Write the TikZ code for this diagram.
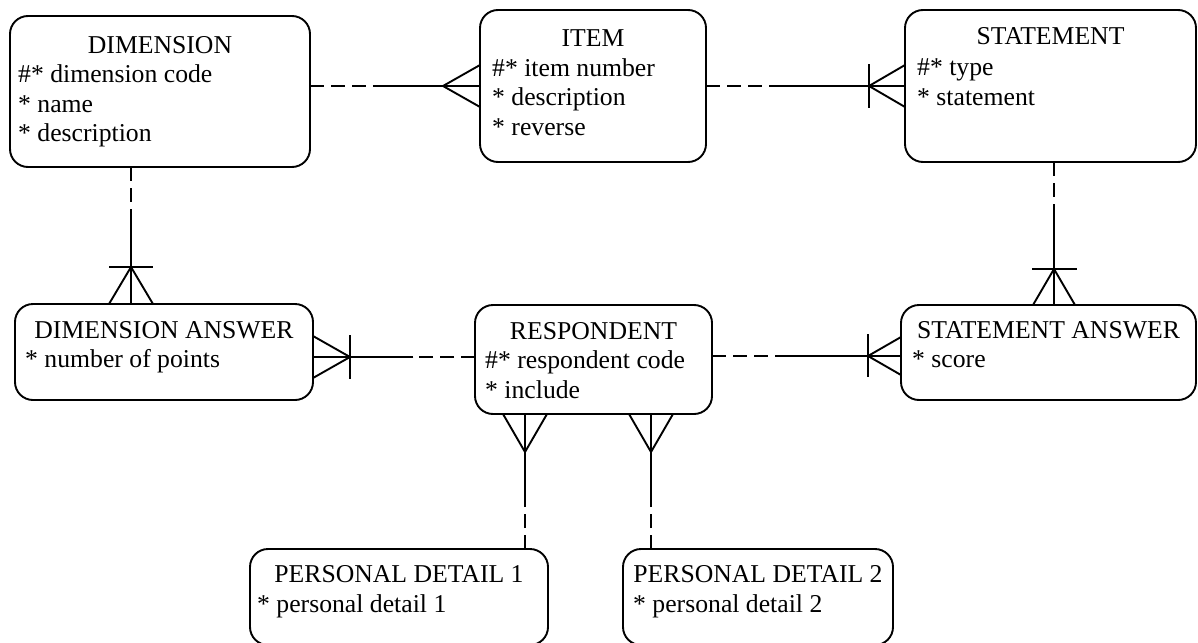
\documentclass[tikz,border=0pt]{standalone}
\usepackage{fontspec}
\setmainfont{Liberation Serif}
\usetikzlibrary{calc}
\tikzset{
 ent/.style={draw, line width=1.9pt, rounded corners=18pt, inner sep=0pt, outer sep=0pt},
 ttl/.style={anchor=base, inner sep=0pt},
 att/.style={anchor=base west, inner sep=0pt},
 optl/.style={line width=1.9pt, dash pattern=on 14pt off 7pt},
 manl/.style={line width=1.9pt},
 every node/.append style={font=\fontsize{25.7pt}{30pt}\selectfont},
}
\begin{document}
\begin{tikzpicture}[x=1pt,y=-1pt]
\useasboundingbox (0,0) rectangle (1198,642);
% entities
\node[ent, minimum width=300pt, minimum height=151pt] (DIM) at (160,91.5) {};
\node[ent, minimum width=226pt, minimum height=152pt] (ITEM) at (593,86) {};
\node[ent, minimum width=291pt, minimum height=152pt] (STMT) at (1050.5,86) {};
\node[ent, minimum width=298pt, minimum height=96pt] (DANS) at (164,352) {};
\node[ent, minimum width=237pt, minimum height=109pt] (RESP) at (593.5,359.5) {};
\node[ent, minimum width=295pt, minimum height=95pt] (SANS) at (1048.5,352.5) {};
\node[ent, minimum width=298pt, minimum height=96pt] (PDA) at (399,597) {};
\node[ent, minimum width=270pt, minimum height=96pt] (PDB) at (758,597) {};
% texts
\node[ttl] (DIMt) at ($(DIM.north)+(0,37)$) {DIMENSION};
\node[att] (DIMa1) at ($(DIM.north west)+(8,66)$) {\#* dimension code};
\node[att] (DIMa2) at ($(DIM.north west)+(8,96)$) {* name};
\node[att] (DIMa3) at ($(DIM.north west)+(8,125)$) {* description};
\node[ttl] (ITEMt) at ($(ITEM.north)+(0,36)$) {ITEM};
\node[att] (ITEMa1) at ($(ITEM.north west)+(12,66)$) {\#* item number};
\node[att] (ITEMa2) at ($(ITEM.north west)+(12,95)$) {* description};
\node[att] (ITEMa3) at ($(ITEM.north west)+(12,125)$) {* reverse};
\node[ttl] (STMTt) at ($(STMT.north)+(0,35)$) {STATEMENT};
\node[att] (STMTa1) at ($(STMT.north west)+(12,65)$) {\#* type};
\node[att] (STMTa2) at ($(STMT.north west)+(12,95)$) {* statement};
\node[ttl] (DANSt) at ($(DANS.north)+(0,34)$) {DIMENSION ANSWER};
\node[att] (DANSa1) at ($(DANS.north west)+(10,63)$) {* number of points};
\node[ttl] (RESPt) at ($(RESP.north)+(0,34)$) {RESPONDENT};
\node[att] (RESPa1) at ($(RESP.north west)+(10,63)$) {\#* respondent code};
\node[att] (RESPa2) at ($(RESP.north west)+(10,93)$) {* include};
\node[ttl] (SANSt) at ($(SANS.north)+(0,33)$) {STATEMENT ANSWER};
\node[att] (SANSa1) at ($(SANS.north west)+(11,62)$) {* score};
\node[ttl] (PDAt) at ($(PDA.north)+(0,33)$) {PERSONAL DETAIL 1};
\node[att] (PDAa1) at ($(PDA.north west)+(7,63)$) {* personal detail 1};
\node[ttl] (PDBt) at ($(PDB.north)+(0,33)$) {PERSONAL DETAIL 2};
\node[att] (PDBa1) at ($(PDB.north west)+(10,63)$) {* personal detail 2};
% guide coordinates
\coordinate (yA) at (0,86);
\coordinate (yB) at (0,357);
\coordinate (yC) at (0,356);
\coordinate (xA) at (131,0);
\coordinate (xB) at (1054,0);
\coordinate (xC) at (525,0);
\coordinate (xD) at (651,0);
% DIM -- ITEM
\coordinate (p1) at (DIM.east |- yA); \coordinate (q1) at (ITEM.west |- yA);
\draw[optl] (p1) -- ($(p1)!0.37!(q1)$);
\draw[manl] ($(p1)!0.37!(q1)$) -- (q1);
\draw[manl] ($(q1)+(-37,0)$) -- ($(q1)+(0,-21)$) ($(q1)+(-37,0)$) -- ($(q1)+(0,21)$);
% ITEM -- STMT
\coordinate (p2) at (ITEM.east |- yA); \coordinate (q2) at (STMT.west |- yA);
\draw[optl] (p2) -- ($(p2)!0.37!(q2)$);
\draw[manl] ($(p2)!0.37!(q2)$) -- (q2);
\draw[manl] ($(q2)+(-36,0)$) -- ($(q2)+(0,-21)$) ($(q2)+(-36,0)$) -- ($(q2)+(0,21)$);
\draw[manl] ($(q2)+(-36,-22)$) -- ($(q2)+(-36,22)$);
% DIM -- DANS
\coordinate (p3) at (DIM.south -| xA); \coordinate (q3) at (DANS.north -| xA);
\draw[optl] (p3) -- ($(p3)!0.35!(q3)$);
\draw[manl] ($(p3)!0.35!(q3)$) -- (q3);
\draw[manl] ($(q3)+(0,-37)$) -- ($(q3)+(-22,0)$) ($(q3)+(0,-37)$) -- ($(q3)+(22,0)$);
\draw[manl] ($(q3)+(-22,-37)$) -- ($(q3)+(22,-37)$);
% STMT -- SANS
\coordinate (p4) at (STMT.south -| xB); \coordinate (q4) at (SANS.north -| xB);
\draw[optl] (p4) -- ($(p4)!0.37!(q4)$);
\draw[manl] ($(p4)!0.37!(q4)$) -- (q4);
\draw[manl] ($(q4)+(0,-36)$) -- ($(q4)+(-21,0)$) ($(q4)+(0,-36)$) -- ($(q4)+(21,0)$);
\draw[manl] ($(q4)+(-22,-36)$) -- ($(q4)+(23,-36)$);
% RESP -- DANS
\coordinate (p5) at (RESP.west |- yB); \coordinate (q5) at (DANS.east |- yB);
\draw[optl] (p5) -- ($(p5)!0.38!(q5)$);
\draw[manl] ($(p5)!0.38!(q5)$) -- (q5);
\draw[manl] ($(q5)+(37,0)$) -- ($(q5)+(0,-21)$) ($(q5)+(37,0)$) -- ($(q5)+(0,21)$);
\draw[manl] ($(q5)+(37,-22)$) -- ($(q5)+(37,22)$);
% RESP -- SANS
\coordinate (p6) at (RESP.east |- yC); \coordinate (q6) at (SANS.west |- yC);
\draw[optl] (p6) -- ($(p6)!0.36!(q6)$);
\draw[manl] ($(p6)!0.36!(q6)$) -- (q6);
\draw[manl] ($(q6)+(-33,0)$) -- ($(q6)+(0,-19)$) ($(q6)+(-33,0)$) -- ($(q6)+(0,19)$);
\draw[manl] ($(q6)+(-33,-22)$) -- ($(q6)+(-33,21)$);
% PDA -- RESP
\coordinate (p7) at (PDA.north -| xC); \coordinate (q7) at (RESP.south -| xC);
\draw[optl] (p7) -- ($(p7)!0.34!(q7)$);
\draw[manl] ($(p7)!0.34!(q7)$) -- (q7);
\draw[manl] ($(q7)+(0,38)$) -- ($(q7)+(-22,0)$) ($(q7)+(0,38)$) -- ($(q7)+(22,0)$);
% PDB -- RESP
\coordinate (p8) at (PDB.north -| xD); \coordinate (q8) at (RESP.south -| xD);
\draw[optl] (p8) -- ($(p8)!0.34!(q8)$);
\draw[manl] ($(p8)!0.34!(q8)$) -- (q8);
\draw[manl] ($(q8)+(0,38)$) -- ($(q8)+(-22,0)$) ($(q8)+(0,38)$) -- ($(q8)+(22,0)$);
\end{tikzpicture}
\end{document}
